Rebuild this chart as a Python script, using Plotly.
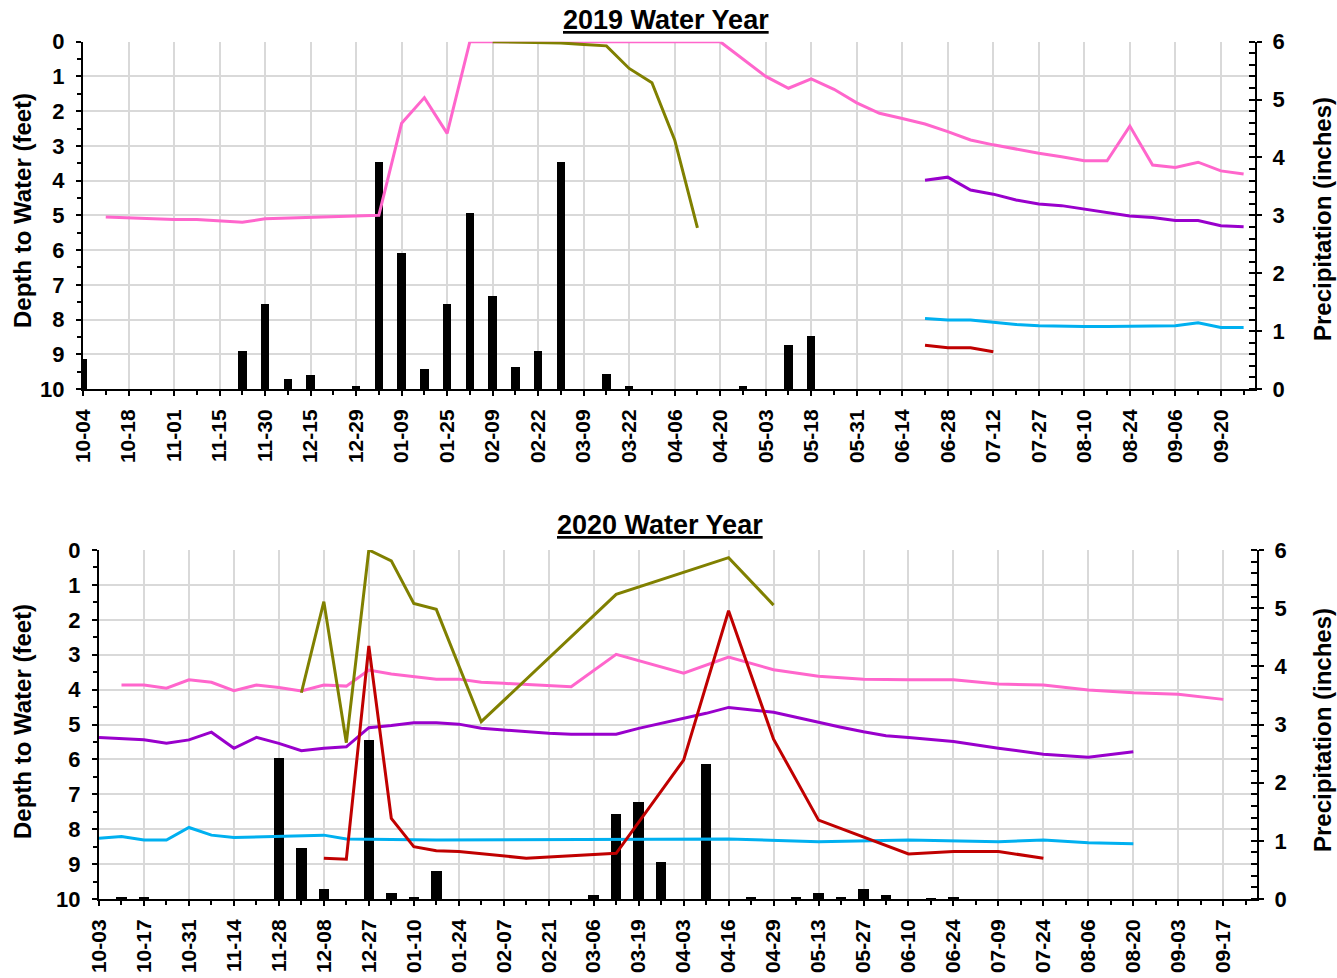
import plotly.graph_objects as go

# ---------------- 2019 Water Year ----------------
ticks_2019 = ["10-04", "10-18", "11-01", "11-15", "11-30", "12-15", "12-29", "01-09",
              "01-25", "02-09", "02-22", "03-09", "03-22", "04-06", "04-20", "05-03",
              "05-18", "05-31", "06-14", "06-28", "07-12", "07-27", "08-10", "08-24",
              "09-06", "09-20"]

# week index (category position) -> value
precip_2019_idx = [0, 7, 8, 9, 10, 12, 13, 14, 15, 16, 17, 18, 19, 20, 21, 23, 24, 29, 31, 32]
precip_2019 = [0.52, 0.67, 1.47, 0.18, 0.25, 0.06, 3.93, 2.35, 0.35, 1.47, 3.05, 1.61,
               0.39, 0.67, 3.93, 0.27, 0.06, 0.05, 0.76, 0.92]

pink_2019_idx = [1, 2, 3, 4, 5, 6, 7, 8, 9, 10, 11, 12, 13, 14, 15, 16, 17, 18, 19, 20,
                 21, 22, 23, 24, 25, 26, 27, 28, 30, 31, 32, 33, 34, 35, 36, 37, 38, 39,
                 40, 41, 42, 43, 44, 45, 46, 47, 48, 49, 50, 51]
pink_2019 = [5.05, 5.08, 5.10, 5.12, 5.12, 5.15, 5.20, 5.10, 5.08, 5.05, 5.04, 5.02, 5.00,
             2.35, 1.61, 2.64, 0, 0, 0, 0, 0, 0, 0, 0, 0, 0, 0, 0, 1.00, 1.34, 1.07, 1.37,
             1.76, 2.06, 2.21, 2.37, 2.59, 2.83, 2.97, 3.10, 3.21, 3.31, 3.43, 3.43, 2.43,
             3.55, 3.62, 3.47, 3.72, 3.81]

olive_2019_idx = [18, 19, 20, 21, 22, 23, 24, 25, 26, 27]
olive_2019 = [0.0, 0.01, 0.02, 0.04, 0.08, 0.12, 0.77, 1.18, 2.83, 5.36]

purple_2019_idx = [37, 38, 39, 40, 41, 42, 43, 44, 45, 46, 47, 48, 49, 50, 51]
purple_2019 = [3.99, 3.90, 4.27, 4.39, 4.56, 4.67, 4.72, 4.82, 4.90, 5.02, 5.06, 5.15,
               5.15, 5.30, 5.33]

blue_2019_idx = [37, 38, 39, 40, 41, 42, 43, 44, 45, 46, 47, 48, 49, 50, 51]
blue_2019 = [7.97, 8.01, 8.01, 8.08, 8.14, 8.18, 8.20, 8.20, 8.20, 8.20, 8.20, 8.18,
             8.09, 8.23, 8.23]

red_2019_idx = [37, 38, 39, 40]
red_2019 = [8.74, 8.81, 8.81, 8.93]

# ---------------- 2020 Water Year ----------------
ticks_2020 = ["10-03", "10-17", "10-31", "11-14", "11-28", "12-08", "12-27", "01-10",
              "01-24", "02-07", "02-21", "03-06", "03-19", "04-03", "04-16", "04-29",
              "05-13", "05-27", "06-10", "06-24", "07-09", "07-24", "08-06", "08-20",
              "09-03", "09-17"]

precip_2020_idx = [1, 2, 8, 9, 10, 12, 13, 14, 15, 22, 23, 24, 25, 27, 29, 31, 32, 33,
                   34, 35, 37, 38]
precip_2020 = [0.02, 0.02, 2.42, 0.88, 0.17, 2.73, 0.11, 0.02, 0.49, 0.07, 1.47, 1.66,
               0.64, 2.32, 0.02, 0.02, 0.10, 0.04, 0.18, 0.07, 0.01, 0.04]

pink_2020_idx = [1, 2, 3, 4, 5, 6, 7, 8, 9, 10, 11, 12, 13, 14, 15, 16, 17, 18, 19, 20,
                 21, 23, 26, 28, 30, 32, 34, 36, 38, 40, 42, 44, 46, 48, 50]
pink_2020 = [3.87, 3.87, 3.96, 3.72, 3.79, 4.03, 3.87, 3.94, 4.04, 3.87, 3.90, 3.44,
             3.55, 3.63, 3.70, 3.70, 3.79, 3.82, 3.85, 3.87, 3.92, 2.99, 3.53, 3.07,
             3.43, 3.62, 3.70, 3.72, 3.72, 3.84, 3.87, 4.01, 4.09, 4.13, 4.28]

olive_2020_idx = [9, 10, 11, 12, 13, 14, 15, 17, 23, 28, 30]
olive_2020 = [4.09, 1.48, 5.52, 0.0, 0.31, 1.53, 1.70, 4.92, 1.27, 0.22, 1.58]

purple_2020_idx = [0, 1, 2, 3, 4, 5, 6, 7, 8, 9, 10, 11, 12, 13, 14, 15, 16, 17, 18, 19,
                   20, 21, 22, 23, 24, 25, 26, 27, 28, 29, 30, 31, 32, 33, 34, 35, 36,
                   38, 40, 42, 44, 46]
purple_2020 = [5.37, 5.40, 5.44, 5.54, 5.44, 5.22, 5.68, 5.37, 5.54, 5.75, 5.68, 5.64,
               5.09, 5.03, 4.95, 4.95, 4.99, 5.11, 5.16, 5.22, 5.25, 5.28, 5.28, 5.28,
               5.11, 4.97, 4.82, 4.68, 4.51, 4.57, 4.65, 4.79, 4.94, 5.08, 5.21, 5.32,
               5.37, 5.49, 5.68, 5.85, 5.94, 5.78]

blue_2020_idx = [0, 1, 2, 3, 4, 5, 6, 10, 11, 12, 15, 28, 32, 36, 40, 42, 44, 46]
blue_2020 = [8.26, 8.21, 8.31, 8.31, 7.95, 8.17, 8.24, 8.17, 8.28, 8.29, 8.31, 8.28,
             8.36, 8.31, 8.36, 8.31, 8.39, 8.42]

red_2020_idx = [10, 11, 12, 13, 14, 15, 16, 19, 23, 26, 28, 30, 32, 36, 38, 40, 42]
red_2020 = [8.83, 8.86, 2.75, 7.69, 8.50, 8.62, 8.64, 8.83, 8.69, 6.02, 1.74, 5.42,
            7.74, 8.71, 8.64, 8.64, 8.83]

# ---------------- styling ----------------
PINK, OLIVE, PURPLE, BLUE, RED = "#FF66CC", "#808000", "#9900CC", "#00B0F0", "#C00000"
GRID = "#D9D9D9"
FONT = "Liberation Sans, Arial, sans-serif"
W, H = 1337, 978

fig = go.Figure()

panels = [
    dict(xa="x", ya_p="y", ya_d="y2", bw=0.37,
         precip=(precip_2019_idx, precip_2019),
         lines=[(pink_2019_idx, pink_2019, PINK), (purple_2019_idx, purple_2019, PURPLE),
                (blue_2019_idx, blue_2019, BLUE), (red_2019_idx, red_2019, RED),
                (olive_2019_idx, olive_2019, OLIVE)]),
    dict(xa="x2", ya_p="y3", ya_d="y4", bw=0.47,
         precip=(precip_2020_idx, precip_2020),
         lines=[(pink_2020_idx, pink_2020, PINK), (purple_2020_idx, purple_2020, PURPLE),
                (blue_2020_idx, blue_2020, BLUE), (red_2020_idx, red_2020, RED),
                (olive_2020_idx, olive_2020, OLIVE)]),
]

for p in panels:
    fig.add_trace(go.Bar(x=p["precip"][0], y=p["precip"][1], width=p["bw"],
                         marker=dict(color="black", line=dict(width=0)),
                         xaxis=p["xa"], yaxis=p["ya_p"], showlegend=False,
                         hoverinfo="skip"))
    for xs, ys, c in p["lines"]:
        fig.add_trace(go.Scatter(x=xs, y=ys, mode="lines", line=dict(color=c, width=3),
                                 xaxis=p["xa"], yaxis=p["ya_d"], showlegend=False))

xtickfont = dict(family=FONT, size=21, color="black", weight="bold")
ytickfont = dict(family=FONT, size=22, color="black", weight="bold")
TICK = dict(ticklen=5, tickwidth=2, tickcolor="black")


def xaxis_cfg(domain, anchor, labels):
    return dict(domain=domain, anchor=anchor, range=[0, 51.5], automargin=False,
                tickmode="array", tickvals=[2 * i for i in range(len(labels))],
                ticktext=labels, tickangle=-90, tickfont=xtickfont, ticklabelstandoff=5,
                showgrid=True, gridcolor=GRID, gridwidth=2,
                ticks="outside", **TICK,
                showline=True, linecolor="black", linewidth=2, zeroline=False,
                minor=dict(ticks="outside", ticklen=4, tickwidth=2, tickcolor="black",
                           tickmode="linear", tick0=0, dtick=1, showgrid=False))


def xaxis_inner(over, domain, anchor, labels):
    # inner half of the crossing major ticks
    return dict(overlaying=over, domain=domain, anchor=anchor, range=[0, 51.5],
                automargin=False, tickmode="array",
                tickvals=[2 * i for i in range(len(labels))],
                showticklabels=False, showgrid=False, zeroline=False, showline=False,
                ticks="inside", **TICK)


def precip_axis(domain, anchor):
    return dict(domain=domain, anchor=anchor, side="right", range=[0, 6], automargin=False,
                tickmode="linear", tick0=0, dtick=1, tickfont=ytickfont,
                ticklabelstandoff=6,
                showgrid=False, zeroline=False,
                ticks="outside", **TICK,
                showline=True, linecolor="black", linewidth=2,
                minor=dict(ticks="inside", ticklen=6, tickwidth=2, tickcolor="black",
                           tickmode="linear", tick0=0, dtick=0.2, showgrid=False))


def depth_axis(over, anchor):
    return dict(overlaying=over, anchor=anchor, side="left", range=[10, 0], automargin=False,
                tickmode="linear", tick0=0, dtick=1, tickfont=ytickfont,
                ticklabelstandoff=7,
                showgrid=True, gridcolor=GRID, gridwidth=2, zeroline=False,
                ticks="outside", **TICK,
                showline=True, linecolor="black", linewidth=2,
                minor=dict(ticks="outside", ticklen=4, tickwidth=2, tickcolor="black",
                           tickmode="linear", tick0=0, dtick=0.5, showgrid=False))


def y_inner(over, anchor, side, rng, dtick):
    return dict(overlaying=over, anchor=anchor, side=side, range=rng, automargin=False,
                tickmode="linear", tick0=0, dtick=dtick, showticklabels=False,
                showgrid=False, zeroline=False, showline=False,
                ticks="inside", **TICK)


top_y = [1 - 389 / H, 1 - 41.7 / H]
bot_y = [1 - 899 / H, 1 - 550 / H]
top_x = [83 / W, 1255 / W]
bot_x = [99 / W, 1257 / W]

fig.update_layout(
    width=W, height=H, margin=dict(l=0, r=0, t=0, b=0, autoexpand=False),
    paper_bgcolor="white", plot_bgcolor="white", bargap=0,
    font=dict(family=FONT, color="black"),
    xaxis=xaxis_cfg(top_x, "y", ticks_2019),
    yaxis=precip_axis(top_y, "x"),
    yaxis2=depth_axis("y", "x"),
    xaxis2=xaxis_cfg(bot_x, "y3", ticks_2020),
    yaxis3=precip_axis(bot_y, "x2"),
    yaxis4=depth_axis("y3", "x2"),
    xaxis3=xaxis_inner("x", top_x, "y", ticks_2019),
    xaxis4=xaxis_inner("x2", bot_x, "y3", ticks_2020),
    yaxis5=y_inner("y", "x", "right", [0, 6], 1),
    yaxis6=y_inner("y", "x", "left", [10, 0], 1),
    yaxis7=y_inner("y3", "x2", "right", [0, 6], 1),
    yaxis8=y_inner("y3", "x2", "left", [10, 0], 1),
)

titlefont = dict(family=FONT, size=27, color="black", weight="bold")
axfont = dict(family=FONT, size=24, color="black", weight="bold")
annos = [
    dict(text="<u>2019 Water Year</u>", x=666 / W, y=1 - 20 / H, font=titlefont, textangle=0),
    dict(text="<u>2020 Water Year</u>", x=660 / W, y=1 - 525 / H, font=titlefont, textangle=0),
    dict(text="Depth to Water (feet)", x=22 / W, y=1 - 211 / H, font=axfont, textangle=-90),
    dict(text="Depth to Water (feet)", x=22 / W, y=1 - 722 / H, font=axfont, textangle=-90),
    dict(text="Precipitation (inches)", x=1322 / W, y=1 - 219 / H, font=axfont, textangle=-90),
    dict(text="Precipitation (inches)", x=1322 / W, y=1 - 730 / H, font=axfont, textangle=-90),
]
for a in annos:
    fig.add_annotation(xref="paper", yref="paper", xanchor="center", yanchor="middle",
                       showarrow=False, **a)

# remove the browser's default 8px page margin so the figure sits at the window origin
fig.write_html("out.html", config={"displayModeBar": False},
               post_script="document.body.style.margin='0';"
                           "document.documentElement.style.overflow='hidden';")
